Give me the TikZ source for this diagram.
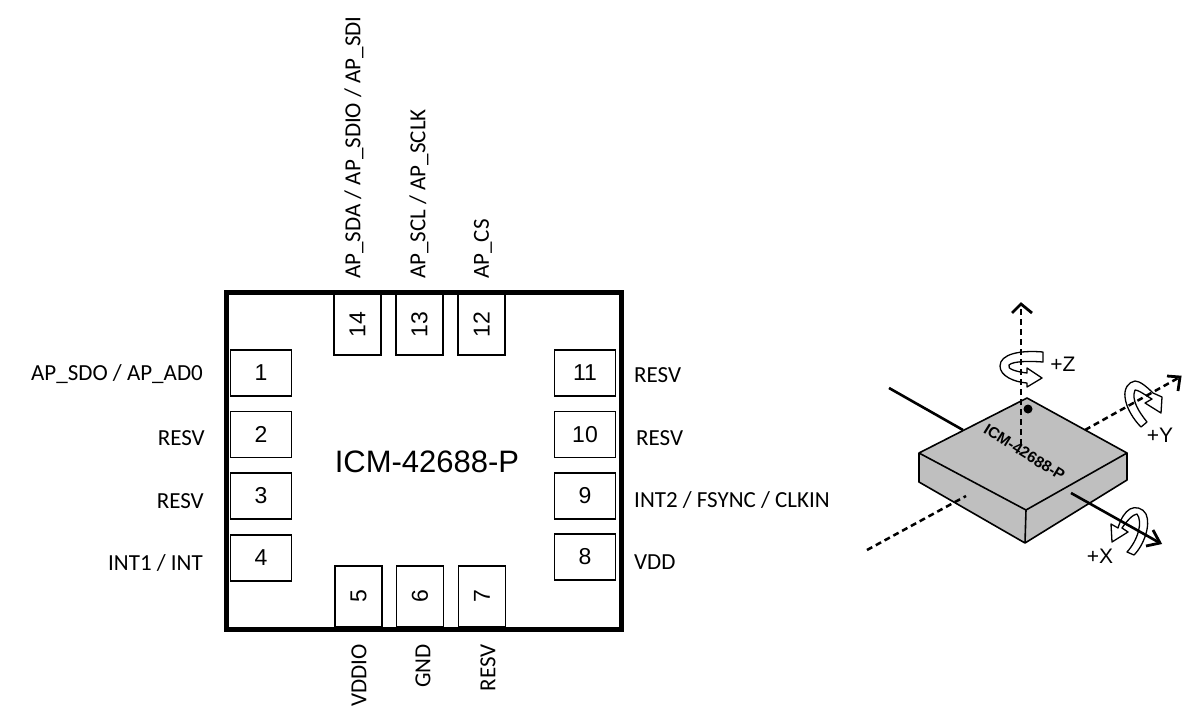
\documentclass[tikz,border=0pt]{standalone}
\usepackage{fontspec}
\setmainfont{Carlito}
\newfontfamily\pinfont{Liberation Sans}
\tikzset{
    pinbox/.style = {draw, line width = 1.1pt, inner sep = 0pt, font = \pinfont\fontsize{23}{24}\selectfont},
    sidepin/.style = {pinbox, minimum width = 61pt, minimum height = 46pt},
    endpin/.style = {pinbox, minimum width = 47pt, minimum height = 61pt},
    pinlabel/.style = {inner sep = 0pt, font = \fontsize{23}{24}\selectfont},
    axislabel/.style = {inner sep = 0pt, font = \pinfont\fontsize{21}{22}\selectfont},
    axisdash/.style = {line width = 2.5pt, dash pattern = on 6pt off 4pt},
    axissolid/.style = {line width = 2.6pt},
    openhead/.style = {line width = 2.8pt, line join = miter},
    turnarrow/.style = {draw, fill = white, line width = 1.3pt, line join = round}
}
\begin{document}
\begin{tikzpicture}[x = 1pt, y = -1pt]
    \useasboundingbox (0, 0) rectangle (1195, 723);
    % package outline
    \node [draw, line width = 5pt, minimum width = 395pt, minimum height = 337pt, inner sep = 0pt] (package) at (423.5, 460.5) {};
    \node [font = \pinfont\fontsize{31}{31}\selectfont, inner sep = 0pt] (partname) at (427, 462) {ICM-42688-P};
    % pins
    \foreach \name/\x/\y in {1/261/373, 2/261/434.5, 3/261/496, 4/261/558, 8/585/557, 9/585/496, 10/585/434.5, 11/585/373}
    {
        \node [sidepin] (pin\name) at (\x, \y) {\name};
    }
    \foreach \name/\x/\y in {14/357.5/324.5, 13/419.5/324.5, 12/481.5/324.5, 5/358.5/596.5, 6/420/596.5, 7/482/596.5}
    {
        \node [endpin] (pin\name) at (\x, \y) {\rotatebox{90}{\name}};
    }
    % pin names
    \node [pinlabel, anchor = east] (label1) at (203, 374) {AP\_SDO / AP\_AD0};
    \node [pinlabel, anchor = east] (label2) at (205, 438) {RESV};
    \node [pinlabel, anchor = east] (label3) at (204, 501) {RESV};
    \node [pinlabel, anchor = east] (label4) at (203, 563) {INT1 / INT};
    \node [pinlabel, anchor = west] (label11) at (634, 375) {RESV};
    \node [pinlabel, anchor = west] (label10) at (636, 438) {RESV};
    \node [pinlabel, anchor = west] (label9) at (634, 500) {INT2 / FSYNC / CLKIN};
    \node [pinlabel, anchor = west] (label8) at (634, 562) {VDD};
    \node [pinlabel, rotate = 90, anchor = west] (label14) at (354, 279) {AP\_SDA / AP\_SDIO / AP\_SDI};
    \node [pinlabel, rotate = 90, anchor = west] (label13) at (419, 279) {AP\_SCL / AP\_SCLK};
    \node [pinlabel, rotate = 90, anchor = west] (label12) at (483, 279) {AP\_CS};
    \node [pinlabel, rotate = 90, anchor = east] (label5) at (359, 644) {VDDIO};
    \node [pinlabel, rotate = 90, anchor = east] (label6) at (423, 644) {GND};
    \node [pinlabel, rotate = 90, anchor = east] (label7) at (488, 644) {RESV};
    % chip in 3d
    \fill [gray!50] (919, 453) -- (1027, 398) -- (1127, 453) -- (1127, 480) -- (1025, 543) -- (919, 482) -- cycle;
    \draw [line width = 1.6pt, line join = round] (919, 453) -- (1027, 398) -- (1127, 453) -- (1026, 510) -- cycle;
    \draw [line width = 1.6pt, line join = round] (919, 453) -- (919, 482) -- (1025, 543) -- (1127, 480) -- (1127, 453);
    \draw [line width = 1.6pt] (1026, 510) -- (1025, 543);
    \node [font = \pinfont\bfseries\fontsize{15.5}{16}\selectfont, rotate = -32, inner sep = 0pt] (chipname) at (1024.5, 452.5) {ICM-42688-P};
    \fill (1028, 409) circle (4.5);
    % rotation arrows
    \draw [turnarrow] (1043, 352) .. controls (1020, 350) and (1000, 354) .. (1000, 366) .. controls (1000, 376) and (1014, 382) .. (1027, 383) -- (1027, 387) -- (1042, 378) -- (1027, 368) -- (1027, 373) .. controls (1018, 372) and (1006, 369) .. (1009, 365) .. controls (1013, 361) and (1030, 361) .. (1043, 362) -- cycle;
    \draw [turnarrow] (1141, 427) -- (1147, 422) .. controls (1139, 412) and (1131, 400) .. (1135, 390) .. controls (1139, 390) and (1148, 397) .. (1152, 399) -- (1145, 403) -- (1161, 413) -- (1162, 397) -- (1153, 393) .. controls (1147, 387) and (1140, 381) .. (1135, 381) .. controls (1128, 382) and (1124, 389) .. (1125, 397) .. controls (1126, 408) and (1134, 420) .. (1141, 427) -- cycle;
    \draw [turnarrow] (1127, 552) -- (1134, 555) .. controls (1144, 545) and (1151, 525) .. (1146, 514) .. controls (1143, 508) and (1135, 506) .. (1130, 509) .. controls (1125, 512) and (1121, 518) .. (1118, 528) -- (1111, 524) -- (1112, 542) -- (1128, 532) -- (1122, 528) .. controls (1126, 522) and (1133, 514) .. (1137, 514) .. controls (1143, 522) and (1138, 540) .. (1127, 552) -- cycle;
    % axes
    \coordinate (ztail) at (1021, 445);
    \coordinate (ztip) at (1021, 304);
    \coordinate (ytail) at (1085, 430);
    \coordinate (ytip) at (1180, 377);
    \coordinate (xtail) at (1071, 493);
    \coordinate (xtip) at (1160, 543);
    \coordinate (backstart) at (889, 388);
    \coordinate (backend) at (963, 430);
    \coordinate (frontstart) at (867, 550);
    \coordinate (frontend) at (966, 496);
    \draw [axisdash] (ztail) -- (ztip);
    \draw [axisdash] (ytail) -- (ytip);
    \draw [axisdash] (frontstart) -- (frontend);
    \draw [axissolid] (xtail) -- (xtip);
    \draw [axissolid] (backstart) -- (backend);
    \draw [openhead] (1012, 313) -- (ztip) -- (1032, 313);
    \draw [openhead] (1167, 376) -- (ytip) -- (1178, 391);
    \draw [openhead] (1146, 546) -- (xtip) -- (1153, 530);
    \node [axislabel] (zlabel) at (1063, 364) {+Z};
    \node [axislabel] (ylabel) at (1160, 435) {+Y};
    \node [axislabel] (xlabel) at (1100, 556) {+X};
\end{tikzpicture}
\end{document}
